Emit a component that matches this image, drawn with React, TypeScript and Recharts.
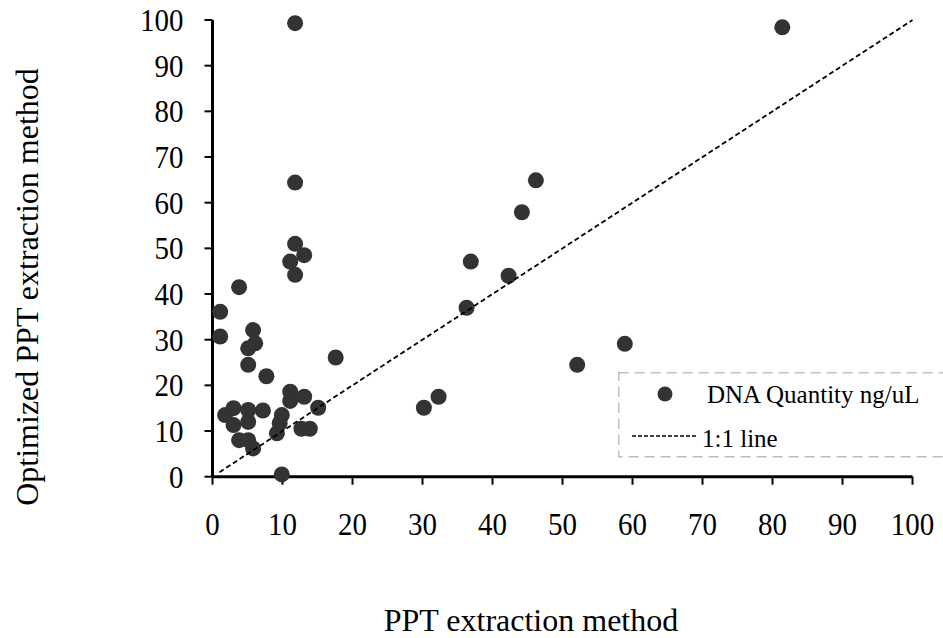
import { ScatterChart, Scatter, XAxis, YAxis, Legend, Label } from 'recharts';

// PPT extraction method (x) vs optimized PPT extraction method (y), ng/uL
const pptValues = [
  1.1, 1.1, 3.8, 1.8, 3.0, 3.0, 5.1, 5.1, 7.2, 9.9, 9.6, 9.2, 3.8, 5.1, 5.8,
  12.7, 13.9, 9.9, 5.8, 6.1, 5.1, 5.1, 7.7, 17.6, 11.1, 11.1, 13.1, 15.1,
  11.8, 11.8, 11.8, 13.1, 11.1, 11.8, 36.9, 42.3, 36.3, 58.9, 52.1, 32.3,
  30.2, 44.2, 46.2, 81.4,
];
const optimizedValues = [
  36.1, 30.7, 41.5, 13.5, 15.0, 11.3, 14.6, 12.0, 14.5, 13.5, 11.7, 9.5, 8.0,
  8.0, 6.2, 10.5, 10.5, 0.5, 32.1, 29.2, 28.1, 24.5, 22.0, 26.1, 18.6, 16.6,
  17.5, 15.1, 99.3, 64.4, 51.0, 48.5, 47.1, 44.2, 47.1, 44.0, 37.0, 29.1,
  24.5, 17.5, 15.1, 57.9, 64.9, 98.4,
];
const lineX = [1, 100];
const lineY = [1, 100];
const axisTicks = [0, 10, 20, 30, 40, 50, 60, 70, 80, 90, 100];

const points = pptValues.map((x, i) => ({ x, y: optimizedValues[i] }));
const oneToOne = lineX.map((x, i) => ({ x, y: lineY[i] }));

const FONT = '"Liberation Serif", "Times New Roman", serif';

const Dot = (props: any) => {
  if (props.cx == null || props.cy == null) return <g />;
  return <circle cx={props.cx} cy={props.cy} r={8} fill="#333333" />;
};

// tick digits in the reference are drawn a little taller than wide
const XTick = ({ x, y, payload }: any) => (
  <g transform={`translate(${x},${y}) scale(1,1.12)`}>
    <text x={0} y={20.1} textAnchor="middle" fontSize={29} fontFamily={FONT} fill="#000">
      {payload.value}
    </text>
  </g>
);

const YTick = ({ x, y, payload }: any) => (
  <g transform={`translate(${x},${y}) scale(1,1.12)`}>
    <text x={0} y={9.8} textAnchor="end" fontSize={29} fontFamily={FONT} fill="#000">
      {payload.value}
    </text>
  </g>
);

const LegendBox = ({ payload }: any) => {
  const items = payload || [];
  const dots = items.find((p: any) => p.type === 'circle');
  const line = items.find((p: any) => p.type === 'line');
  return (
    <svg width={325} height={86} style={{ display: 'block' }}>
      <rect
        x={0.75}
        y={0.75}
        width={400}
        height={84}
        fill="none"
        stroke="#bfbfbf"
        strokeWidth={1.5}
        strokeDasharray="10 6"
      />
      <circle cx={47} cy={22} r={7.5} fill="#333333" />
      <text x={89} y={31} fontSize={25} fontFamily={FONT} fill="#000">
        {dots ? dots.value : ''}
      </text>
      <line x1={14} x2={79} y1={64} y2={64} stroke="#000" strokeWidth={1.5} strokeDasharray="4 2" />
      <text x={84} y={75} fontSize={25} fontFamily={FONT} fill="#000">
        {line ? line.value : ''}
      </text>
    </svg>
  );
};

export default function App() {
  return (
    <div
      style={{
        position: 'absolute',
        left: 0,
        top: 0,
        width: 943,
        height: 638,
        background: '#fff',
        fontFamily: FONT,
      }}
    >
      <ScatterChart width={943} height={638} margin={{ top: 20, right: 30.5, bottom: 61.3, left: 62.5 }}>
        <XAxis
          type="number"
          dataKey="x"
          domain={[0, 100]}
          ticks={axisTicks}
          height={100}
          tickSize={8}
          tickMargin={28}
          axisLine={{ stroke: '#000', strokeWidth: 3 }}
          tickLine={{ stroke: '#000', strokeWidth: 2 }}
          tick={<XTick />}
        >
          <Label
            content={() => (
              <text x={531} y={631} textAnchor="middle" fontSize={32} fontFamily={FONT} fill="#000">
                PPT extraction method
              </text>
            )}
          />
        </XAxis>
        <YAxis
          type="number"
          dataKey="y"
          domain={[0, 100]}
          ticks={axisTicks}
          width={150}
          tickSize={8}
          tickMargin={21}
          axisLine={{ stroke: '#000', strokeWidth: 3 }}
          tickLine={{ stroke: '#000', strokeWidth: 2 }}
          tick={<YTick />}
        >
          <Label
            content={() => (
              <text
                x={38}
                y={287}
                transform="rotate(-90 38 287)"
                textAnchor="middle"
                fontSize={32}
                fontFamily={FONT}
                fill="#000"
              >
                Optimized PPT extraction method
              </text>
            )}
          />
        </YAxis>
        <Legend
          layout="horizontal"
          verticalAlign="middle"
          content={<LegendBox />}
          wrapperStyle={{ left: 618, top: 372, width: 325, height: 86 }}
        />
        <Scatter
          name="DNA Quantity ng/uL"
          data={points}
          shape={<Dot />}
          legendType="circle"
          isAnimationActive={false}
        />
        <Scatter
          name="1:1 line"
          data={oneToOne}
          line={{ stroke: '#000', strokeWidth: 1.8, strokeDasharray: '5 3' }}
          shape={() => <g />}
          legendType="line"
          isAnimationActive={false}
        />
      </ScatterChart>
    </div>
  );
}
